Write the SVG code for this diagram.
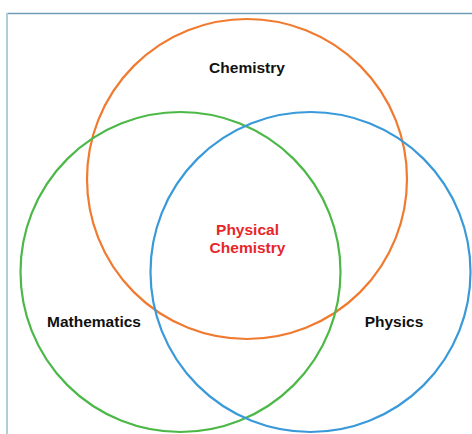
<svg xmlns="http://www.w3.org/2000/svg" width="472" height="434" viewBox="0 0 472 434">
<style>
.c{fill:none;stroke-width:2.2}
.t{font-family:"Liberation Sans",Arial,sans-serif;font-weight:bold;font-size:15.5px;text-anchor:middle;fill:#111}
.r{fill:#e8262a}
</style>
<rect width="472" height="434" fill="#fff"/>
<g id="frame">
<line x1="7" y1="13.5" x2="472" y2="13.5" stroke="#6f9fb5" stroke-width="1.5"/>
<line x1="7" y1="13" x2="7" y2="434" stroke="#b0cdd9" stroke-width="2"/>
</g>
<g id="connectors"></g>
<g id="chemistry">
<circle class="c" cx="247" cy="179" r="160" stroke="#f07a30"/>
<text class="t" x="247" y="73">Chemistry</text>
</g>
<g id="mathematics">
<circle class="c" cx="180.5" cy="272" r="160" stroke="#4cb848"/>
<text class="t" x="94" y="327">Mathematics</text>
</g>
<g id="physics">
<circle class="c" cx="310.5" cy="272" r="160" stroke="#3a9ad9"/>
<text class="t" x="394" y="327">Physics</text>
</g>
<g id="physical-chemistry">
<text class="t r" x="247.5" y="235">Physical</text>
<text class="t r" x="247.5" y="253">Chemistry</text>
</g>
</svg>
